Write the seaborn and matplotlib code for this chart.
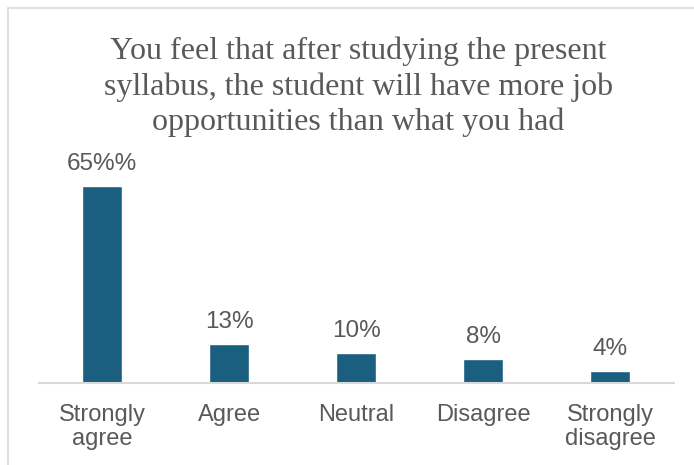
import matplotlib
matplotlib.use("Agg")
import matplotlib.pyplot as plt
from matplotlib.lines import Line2D
import seaborn as sns
import pandas as pd

categories = ["Strongly\nagree", "Agree", "Neutral", "Disagree", "Strongly\ndisagree"]
values = [65, 13, 10, 8, 4]
labels = ["65%%", "13%", "10%", "8%", "4%"]
title = "You feel that after studying the present\nsyllabus, the student will have more job\nopportunities than what you had"

df = pd.DataFrame({"category": categories, "value": values})

sns.set_style("white")
plt.rcParams["font.family"] = ["Liberation Sans", "DejaVu Sans"]

fig = plt.figure(figsize=(6.94, 4.65), dpi=100)
ax = fig.add_axes([0.0555, 0.1763, 0.915, 0.456])

sns.barplot(data=df, x="category", y="value", color="#1a5e80", width=0.315,
            saturation=1, ax=ax)

for i, (v, lab) in enumerate(zip(values, labels)):
    ax.annotate(lab, (i, v), xytext=(0, 8), textcoords="offset points",
                ha="center", va="bottom", fontsize=17.5, color="#595959")

ax.set_ylim(0, 70)
ax.set_xlim(-0.5, 4.5)
ax.set_yticks([])
ax.set_xlabel("")
ax.set_ylabel("")
ax.tick_params(axis="x", length=0, labelsize=17, labelcolor="#595959", pad=15)
for lbl in ax.get_xticklabels():
    lbl.set_linespacing(1.15)
for s in ["top", "right", "left"]:
    ax.spines[s].set_visible(False)
ax.spines["bottom"].set_color("#d9d9d9")
ax.spines["bottom"].set_linewidth(1.5)

fig.text(0.516, 0.921, title, ha="center", va="top", fontsize=23,
         family=["Liberation Serif", "DejaVu Serif"], color="#595959",
         linespacing=1.27)

# chart area border (top and left visible)
fig.add_artist(Line2D([8 / 694, 1], [1 - 8 / 465, 1 - 8 / 465], color="#d9d9d9", lw=1.2))
fig.add_artist(Line2D([8 / 694, 8 / 694], [0, 1 - 8 / 465], color="#d9d9d9", lw=1.2))

fig.savefig("out.png", dpi=100)
